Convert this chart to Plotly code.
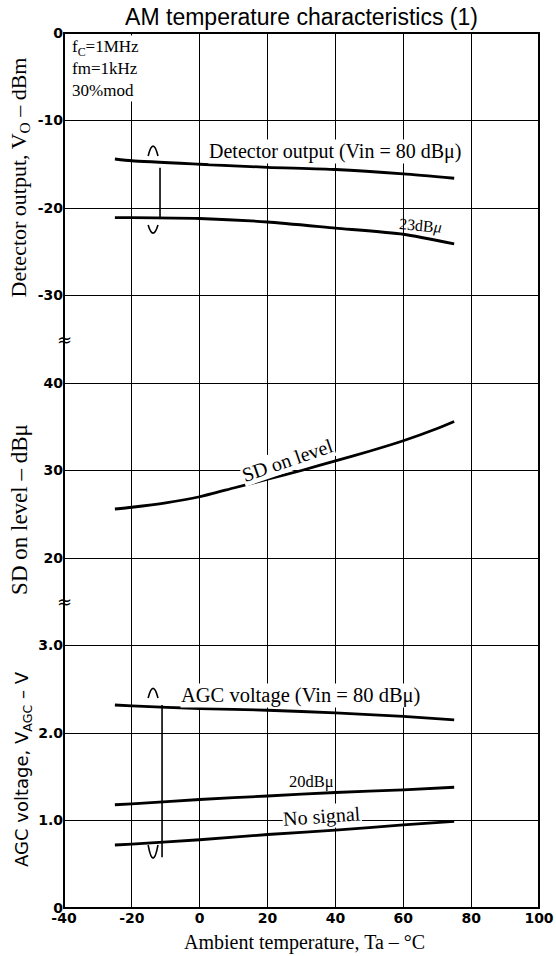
import plotly.graph_objects as go

# ---------------- data ----------------
temp = [-25, -20, 0, 20, 40, 60, 75]
det_80 = [-14.4, -14.6, -15.0, -15.35, -15.6, -16.1, -16.6]
det_23 = [-21.1, -21.1, -21.2, -21.6, -22.3, -23.0, -24.1]

sd_temp = [-25, -20, -10, 0, 10, 20, 30, 40, 50, 60, 70, 75]
sd_on = [25.6, 25.8, 26.3, 27.0, 28.0, 29.0, 30.0, 31.1, 32.2, 33.4, 34.8, 35.6]

agc_80 = [2.32, 2.31, 2.28, 2.26, 2.23, 2.19, 2.15]
agc_20 = [1.18, 1.19, 1.24, 1.28, 1.32, 1.35, 1.38]
agc_none = [0.72, 0.73, 0.78, 0.84, 0.89, 0.95, 0.99]

x_ticks = [-40, -20, 0, 20, 40, 60, 80, 100]
x_ticktext = ["-40", "-20", "0", "20", "40", "60", "80", "100"]
agc_ticks = [0, 1, 2, 3]
agc_ticktext = ["0", "1.0", "2.0", "3.0"]
sd_ticks = [20, 30, 40]
sd_ticktext = ["20", "30", "40"]
det_ticks = [-30, -20, -10, 0]
det_ticktext = ["-30", "-20", "-10", "0"]

SERIF = "Liberation Serif, Times New Roman, serif"
SANS = "DejaVu Sans, sans-serif"
LINE = dict(color="black", width=2.8, shape="spline", smoothing=0.6)

fig = go.Figure()
fig.add_trace(go.Scatter(x=temp, y=det_80, mode="lines", line=LINE, yaxis="y3", showlegend=False))
fig.add_trace(go.Scatter(x=temp, y=det_23, mode="lines", line=LINE, yaxis="y3", showlegend=False))
fig.add_trace(go.Scatter(x=sd_temp, y=sd_on, mode="lines", line=LINE, yaxis="y2", showlegend=False))
fig.add_trace(go.Scatter(x=temp, y=agc_80, mode="lines", line=LINE, yaxis="y", showlegend=False))
fig.add_trace(go.Scatter(x=temp, y=agc_20, mode="lines", line=LINE, yaxis="y", showlegend=False))
fig.add_trace(go.Scatter(x=temp, y=agc_none, mode="lines", line=LINE, yaxis="y", showlegend=False))

grid = dict(showgrid=True, gridcolor="black", gridwidth=1.3, zeroline=False,
            showline=False, ticks="", automargin=False,
            tickfont=dict(family=SANS, size=14, color="black", weight="bold"))

W, H = 556, 956
fig.update_layout(
    width=W, height=H, autosize=False,
    margin=dict(l=64, r=17, t=33, b=48, pad=0),
    paper_bgcolor="white", plot_bgcolor="white",
    title=dict(text="AM temperature characteristics (1)", x=0.5, xref="paper",
               y=1 - 17 / H, yanchor="middle",
               font=dict(family="Liberation Sans, Arial, sans-serif", size=23, color="black")),
    xaxis=dict(range=[-40, 100], tickvals=x_ticks, ticktext=x_ticktext, anchor="y", **grid),
    yaxis=dict(domain=[0, 0.35], range=[0, 3.5], tickvals=agc_ticks, ticktext=agc_ticktext,
               anchor="x", **grid),
    yaxis2=dict(domain=[0.35, 0.65], range=[15, 45], tickvals=sd_ticks, ticktext=sd_ticktext,
                anchor="x", **grid),
    yaxis3=dict(domain=[0.65, 1.0], range=[-35, 0], tickvals=det_ticks, ticktext=det_ticktext,
                anchor="x", **grid),
)

# frame
fig.add_shape(type="rect", xref="paper", yref="paper", x0=0, x1=1, y0=0, y1=1,
              line=dict(color="black", width=2), layer="above")


def brace(yref, xl, xr, xv, top_end, top_ctrl, v0, v1, bot_end, bot_ctrl):
    xm = (xl + xr) / 2
    path = (f"M {xl},{top_end} Q {xm},{top_ctrl} {xr},{top_end} "
            f"M {xv},{v0} L {xv},{v1} "
            f"M {xl},{bot_end} Q {xm},{bot_ctrl} {xr},{bot_end}")
    fig.add_shape(type="path", xref="x", yref=yref, path=path,
                  line=dict(color="black", width=1.6))


brace("y3", -15.2, -12.3, -11.7, -14.06, -11.8, -15.4, -21.1, -21.94, -23.8)
brace("y", -15.2, -12.3, -11.1, 2.40, 2.62, 2.32, 0.58, 0.72, 0.42)

ann = []
C = dict(xanchor="center", yanchor="middle", showarrow=False)
# axis titles
ann.append(dict(text="Detector output, V<sub>O</sub> – dBm", xref="paper", yref="paper",
                x=-0.0926, y=0.835, textangle=-90, **C,
                font=dict(family=SERIF, size=22, color="black")))
ann.append(dict(text="SD on level – dBμ", xref="paper", yref="paper",
                x=-0.0926, y=0.455, textangle=-90, **C,
                font=dict(family=SERIF, size=23, color="black")))
ann.append(dict(text="AGC voltage, V<sub>AGC</sub> – V", xref="paper", yref="paper",
                x=-0.0863, y=0.159, textangle=-90, **C,
                font=dict(family=SANS, size=18, color="black")))
ann.append(dict(text="Ambient temperature, Ta – °C", xref="paper", yref="paper",
                x=0.507, y=-0.0389, **C,
                font=dict(family=SERIF, size=20, color="black")))
# conditions
ann.append(dict(text="f<sub>C</sub>=1MHz<br>fm=1kHz<br>30%mod", xref="paper", yref="paper",
                x=0.012, y=0.998, xanchor="left", yanchor="top", align="left",
                showarrow=False, bgcolor="white", borderpad=1,
                font=dict(family=SERIF, size=17, color="black")))
# curve labels
ann.append(dict(text="Detector output (Vin = 80 dBμ)", xref="x", yref="y3", x=39.9, y=-13.5,
                **C, bgcolor="white", borderpad=0,
                font=dict(family=SERIF, size=20, color="black")))
ann.append(dict(text="23dB<i>μ</i>", xref="x", yref="y3", x=65.2, y=-22.1, textangle=5,
                **C, font=dict(family=SERIF, size=16, color="black")))
ann.append(dict(text="SD on level", xref="x", yref="y2", x=26.0, y=31.2, textangle=-19,
                **C, bgcolor="white", borderpad=0,
                font=dict(family=SERIF, size=20, color="black")))
ann.append(dict(text="AGC voltage (Vin = 80 dBμ)", xref="x", yref="y", x=29.6, y=2.434,
                **C, bgcolor="white", borderpad=0,
                font=dict(family=SERIF, size=20.5, color="black")))
ann.append(dict(text="20dBμ", xref="x", yref="y", x=32.8, y=1.45,
                **C, font=dict(family=SERIF, size=16.5, color="black")))
ann.append(dict(text="No signal", xref="x", yref="y", x=36.0, y=1.05, textangle=-4,
                **C, bgcolor="white", borderpad=0,
                font=dict(family=SERIF, size=20, color="black")))
# axis break marks
for yb in (0.35, 0.65):
    ann.append(dict(text="≈", xref="paper", yref="paper", x=0, y=yb, **C,
                    font=dict(family=SANS, size=18, color="black")))

fig.update_layout(annotations=ann)
fig.write_html(
    "out.html",
    config={"displayModeBar": False},
    post_script="document.body.style.margin='0';document.body.style.overflow='hidden';",
)
